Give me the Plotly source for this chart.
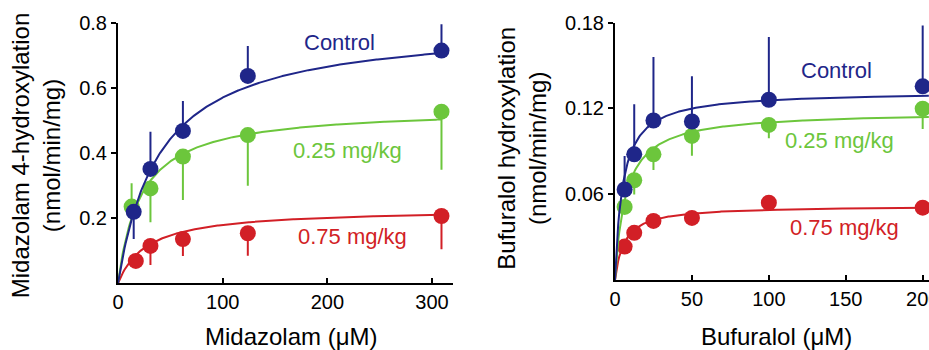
import numpy as np
import plotly.graph_objects as go

W, H = 929, 350

# ---------------- Data: Midazolam ----------------
mdz_conc = [15, 31, 62, 124, 309]
mdz_ctrl = [0.220, 0.352, 0.469, 0.638, 0.716]
mdz_ctrl_up = [0.0, 0.114, 0.092, 0.092, 0.081]
mdz_ctrl_dn = [0.084, 0.0, 0.0, 0.0, 0.0]
mdz_low = [0.236, 0.292, 0.390, 0.456, 0.528]
mdz_low_up = [0.072, 0.0, 0.0, 0.0, 0.0]
mdz_low_dn = [0.0, 0.104, 0.134, 0.156, 0.179]
mdz_high = [0.069, 0.115, 0.136, 0.154, 0.207]
mdz_high_up = [0.0, 0.0, 0.0, 0.0, 0.0]
mdz_high_dn = [0.0, 0.059, 0.052, 0.069, 0.102]
mdz_x_low = [13, 31, 62, 124, 309]
mdz_x_high = [17, 31, 62, 124, 309]
# Michaelis-Menten fit parameters (Vmax, Km)
mdz_fit = {"ctrl": (0.80, 40.0), "low": (0.54, 22.0), "high": (0.23, 28.0)}

# ---------------- Data: Bufuralol ----------------
buf_conc = [6.25, 12.5, 25, 50, 100, 200]
buf_ctrl = [0.0633, 0.0879, 0.1116, 0.1109, 0.1261, 0.1355]
buf_ctrl_up = [0.0234, 0.0351, 0.0444, 0.0316, 0.0439, 0.0425]
buf_low = [0.0511, 0.0698, 0.0879, 0.1008, 0.1085, 0.1198]
buf_low_dn = [0.0, 0.0100, 0.0110, 0.0138, 0.0094, 0.0141]
buf_high = [0.0234, 0.0330, 0.0413, 0.0434, 0.0541, 0.0506]
buf_fit = {"ctrl": (0.132, 5.0), "low": (0.118, 7.0), "high": (0.052, 6.0)}

labels = ["Control", "0.25 mg/kg", "0.75 mg/kg"]
NAVY, GREEN, RED = "#1f2689", "#6cc63c", "#d21f26"
FONT = "Liberation Sans, Arial, sans-serif"

fig = go.Figure()


def mm(vmax, km, xmax):
    x = np.linspace(0, xmax, 300)
    return x, vmax * x / (km + x)


def add_set(xa, ya, xs, ys, up, dn, color, fit, xmax):
    cx, cy = mm(*fit, xmax)
    fig.add_trace(go.Scatter(x=cx, y=cy, mode="lines", xaxis=xa, yaxis=ya,
                             line=dict(color=color, width=2), hoverinfo="skip",
                             showlegend=False, cliponaxis=False))
    fig.add_trace(go.Scatter(x=xs, y=ys, mode="markers", xaxis=xa, yaxis=ya,
                             marker=dict(color=color, size=16, line=dict(width=0)),
                             error_y=dict(type="data", symmetric=False, array=up,
                                          arrayminus=dn, width=0, thickness=2,
                                          color=color),
                             showlegend=False, cliponaxis=False))


zeros6 = [0.0] * 6
add_set("x", "y", mdz_x_high, mdz_high, mdz_high_up, mdz_high_dn, RED, mdz_fit["high"], 309)
add_set("x", "y", mdz_x_low, mdz_low, mdz_low_up, mdz_low_dn, GREEN, mdz_fit["low"], 309)
add_set("x", "y", mdz_conc, mdz_ctrl, mdz_ctrl_up, mdz_ctrl_dn, NAVY, mdz_fit["ctrl"], 309)
add_set("x2", "y2", buf_conc, buf_high, zeros6, zeros6, RED, buf_fit["high"], 204)
add_set("x2", "y2", buf_conc, buf_low, zeros6, buf_low_dn, GREEN, buf_fit["low"], 204)
add_set("x2", "y2", buf_conc, buf_ctrl, buf_ctrl_up, zeros6, NAVY, buf_fit["ctrl"], 204)

axis_common = dict(showgrid=False, zeroline=False, showline=True, linecolor="black",
                   linewidth=2, tickcolor="black", tickwidth=2, ticklen=5, automargin=False,
                   ticklabeloverflow="allow",
                   tickfont=dict(family=FONT, size=20, color="black"))

fig.update_layout(
    width=W, height=H, margin=dict(l=0, r=0, t=0, b=0, pad=0, autoexpand=False),
    paper_bgcolor="white", plot_bgcolor="white",
    xaxis=dict(domain=[118 / W, 453 / W], range=[0, 320], anchor="y", ticks="inside",
               tickvals=[0, 100, 200, 300], ticktext=["0", "100", "200", "300"], **axis_common),
    yaxis=dict(domain=[1 - 283.3 / H, 1 - 23.3 / H], range=[0, 0.8], anchor="x", ticks="outside",
               tickvals=[0.2, 0.4, 0.6, 0.8], ticktext=["0.2", "0.4", "0.6", "0.8"], **axis_common),
    xaxis2=dict(domain=[615 / W, 1.0], range=[0, 204.1], anchor="y2", ticks="inside",
                tickvals=[0, 50, 100, 150, 200], ticktext=["0", "50", "100", "150", "200"], **axis_common),
    yaxis2=dict(domain=[1 - 280 / H, 1 - 22.7 / H], range=[0, 0.18], anchor="x2", ticks="outside",
                tickvals=[0.06, 0.12, 0.18], ticktext=["0.06", "0.12", "0.18"], **axis_common),
)

# Series labels
series_ann = [
    ("x", "y", 212, 0.741, labels[0], NAVY),
    ("x", "y", 219, 0.410, labels[1], GREEN),
    ("x", "y", 224, 0.143, labels[2], RED),
    ("x2", "y2", 143.8, 0.1464, labels[0], NAVY),
    ("x2", "y2", 145.7, 0.0974, labels[1], GREEN),
    ("x2", "y2", 149.3, 0.0367, labels[2], RED),
]
for xr, yr, x, y, t, c in series_ann:
    fig.add_annotation(xref=xr, yref=yr, x=x, y=y, text=t, showarrow=False,
                       font=dict(family=FONT, size=22, color=c),
                       xanchor="center", yanchor="middle")

# Axis titles
title_font = dict(family=FONT, size=24, color="black")
fig.add_annotation(xref="paper", yref="paper", x=291.7 / W, y=1 - 336.7 / H,
                   text="Midazolam (μM)", showarrow=False, font=title_font,
                   xanchor="center", yanchor="middle")
fig.add_annotation(xref="paper", yref="paper", x=776.7 / W, y=1 - 336.7 / H,
                   text="Bufuralol (μM)", showarrow=False, font=title_font,
                   xanchor="center", yanchor="middle")
fig.add_annotation(xref="paper", yref="paper", x=35.4 / W, y=1 - 155.8 / H,
                   text="Midazolam 4-hydroxylation<br>(nmol/min/mg)", showarrow=False,
                   font=title_font, textangle=-90, xanchor="center", yanchor="middle")
fig.add_annotation(xref="paper", yref="paper", x=522 / W, y=1 - 148.7 / H,
                   text="Bufuralol hydroxylation<br>(nmol/min/mg)", showarrow=False,
                   font=title_font, textangle=-90, xanchor="center", yanchor="middle")

fig.write_html("out.html",
               config={"displayModeBar": False},
               post_script="document.body.style.margin='0px';"
                           "document.body.style.overflow='hidden';")
